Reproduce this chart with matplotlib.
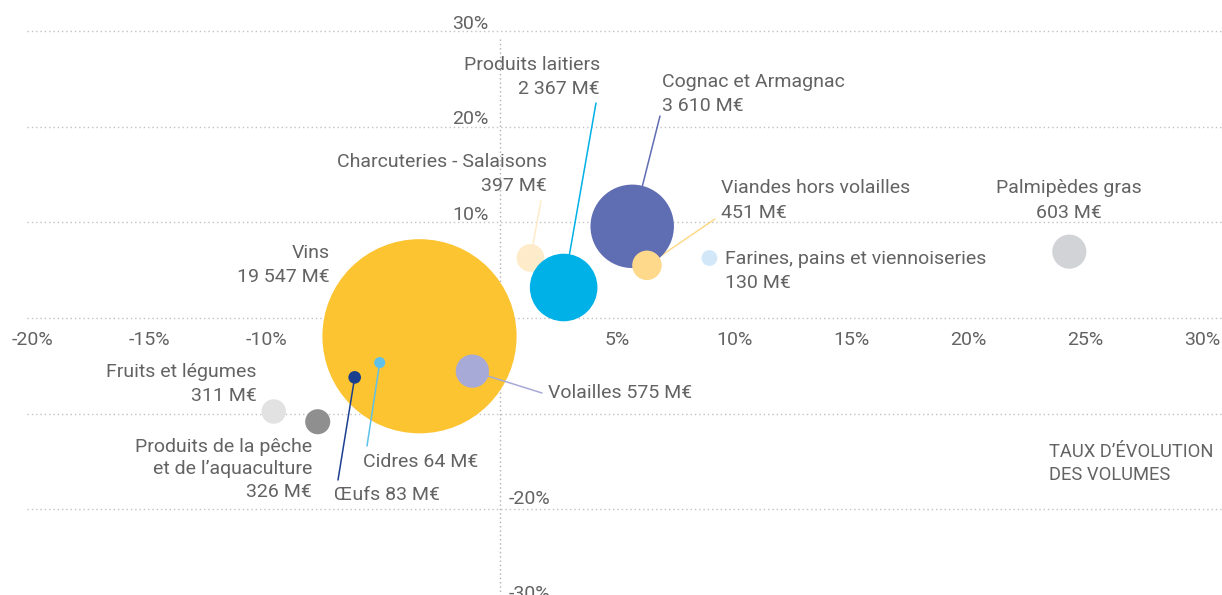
import matplotlib
matplotlib.use("Agg")
import matplotlib.pyplot as plt
from matplotlib import transforms

plt.rcParams['font.family'] = ['Roboto', 'DejaVu Sans']

# data: taux d'évolution (%) en valeur (x) et en volume (y), chiffre d'affaires en M€
names = ['Vins', 'Charcuteries - Salaisons', 'Produits laitiers', 'Cognac et Armagnac',
         'Viandes hors volailles', 'Farines, pains et viennoiseries', 'Palmipèdes gras',
         'Volailles', 'Cidres', 'Œufs', 'Fruits et légumes',
         'Produits de la pêche et de l\u2019aquaculture']
values = [19547, 397, 2367, 3610, 451, 130, 603, 575, 64, 83, 311, 326]
x_val = [-3.44, 1.30, 2.72, 5.65, 6.28, 8.95, 24.33, -1.18, -5.14, -6.21, -9.67, -7.79]
y_vol = [-1.91, 6.28, 3.19, 9.59, 5.51, 6.27, 6.94, -5.56, -4.67, -6.21, -9.78, -10.85]
colors = ['#FDC431', '#FDEBC9', '#00B1E7', '#5F6DB3', '#FED98B', '#D2E8F8', '#D1D3D6',
          '#A7AAD7', '#5EC1EA', '#1B3F8F', '#E2E2E2', '#8F8F8F']

x_ticks = [-20, -15, -10, -5, 5, 10, 15, 20, 25, 30]
y_ticks = [30, 20, 10, -20, -30]

W, H = 1222, 595
TXT = '#636363'
FS = 14

fig = plt.figure(figsize=(W / 100, H / 100), dpi=100)
ax = fig.add_axes([0, 0, 1, 1])
ax.set_xlim(-500 / 23.4, (W - 500) / 23.4)
ax.set_ylim((318 - H) / 9.56, 318 / 9.56)
ax.axis('off')


def fpx(xp, yp):
    # pixel position (from top-left) -> figure fraction
    return xp / W, 1 - yp / H


# dotted grid
for yt in [30, 20, 10, 0, -10, -20, -30]:
    ax.plot([-20.2, ax.get_xlim()[1]], [yt, yt], color='#c2c2c2', lw=1.0,
            ls=(0, (1, 2.1)), dash_capstyle='butt', zorder=0.5)
ax.plot([0, 0], [29.2, ax.get_ylim()[0]], color='#b0b0b0', lw=1.0,
        ls=(0, (1, 2.1)), dash_capstyle='butt', zorder=0.5)

# tick labels
down = transforms.offset_copy(ax.transData, fig=fig, x=0, y=-19.2, units='points')
for xt in x_ticks:
    ax.text(xt, 0, f'{xt}%', transform=down, ha='center', va='baseline',
            fontsize=FS, color=TXT, zorder=1)
left = transforms.offset_copy(ax.transData, fig=fig, x=-8.5, y=1.9, units='points')
right = transforms.offset_copy(ax.transData, fig=fig, x=6.5, y=4, units='points')
for yt in y_ticks:
    if yt > 0:
        ax.text(0, yt, f'{yt}%', transform=left, ha='right', va='baseline',
                fontsize=FS, color=TXT, zorder=1)
    else:
        ax.text(0, yt, f'{yt}%', transform=right, ha='left', va='baseline',
                fontsize=FS, color=TXT, zorder=1)

# bubbles (area proportional to turnover)
for i in range(len(names)):
    ax.scatter(x_val[i], y_vol[i], s=values[i], color=colors[i], edgecolors='none',
               zorder=2 if i == 0 else 4 + i * 0.01)

# leader lines: index -> end point (pixels)
leaders = {1: (541, 201), 2: (596, 103), 3: (660, 116), 4: (715, 219),
           7: (542, 393), 8: (367, 446), 9: (338, 480)}
for i, (xp, yp) in leaders.items():
    ax.annotate('', xy=(x_val[i], y_vol[i]), xycoords='data',
                xytext=fpx(xp, yp), textcoords='figure fraction',
                arrowprops=dict(arrowstyle='-', color=colors[i], lw=1.1,
                                shrinkA=0, shrinkB=0), zorder=3)


def fmt(v):
    return f'{v:,}'.replace(',', ' ') + ' M€'


# labels: lines, x px, first baseline px, alignment, line step, size
labels = [
    (['Vins', fmt(values[0])], 330, 258, 'right', 24, FS),
    (['Charcuteries - Salaisons', fmt(values[1])], 547, 167, 'right', 24, FS),
    (['Produits laitiers', fmt(values[2])], 600, 70, 'right', 24, FS),
    (['Cognac et Armagnac', fmt(values[3])], 662, 87, 'left', 24, FS),
    (['Viandes hors volailles', fmt(values[4])], 721, 193, 'left', 24.5, FS),
    (['Farines, pains et viennoiseries', fmt(values[5])], 725, 264, 'left', 24, FS),
    (['Palmipèdes gras', fmt(values[6])], 1069, 193, 'center', 24.5, FS),
    (['Volailles ' + fmt(values[7])], 548, 398, 'left', 24, FS),
    (['Cidres ' + fmt(values[8])], 363, 467, 'left', 24, FS),
    (['Œufs ' + fmt(values[9])], 334, 500, 'left', 24, FS),
    (['Fruits et légumes', fmt(values[10])], 257, 377, 'right', 24, FS),
    (['Produits de la pêche', 'et de l\u2019aquaculture', fmt(values[11])], 312, 452, 'right', 22.5, FS),
    (['TAUX D\u2019ÉVOLUTION', 'DES VOLUMES'], 1049, 457, 'left', 22.5, 13.2),
]
for lines, xp, yp, ha, step, size in labels:
    for k, line in enumerate(lines):
        fx, fy = fpx(xp, yp + k * step)
        fig.text(fx, fy, line, ha=ha, va='baseline', fontsize=size, color=TXT)

fig.savefig('out.png', dpi=100)
